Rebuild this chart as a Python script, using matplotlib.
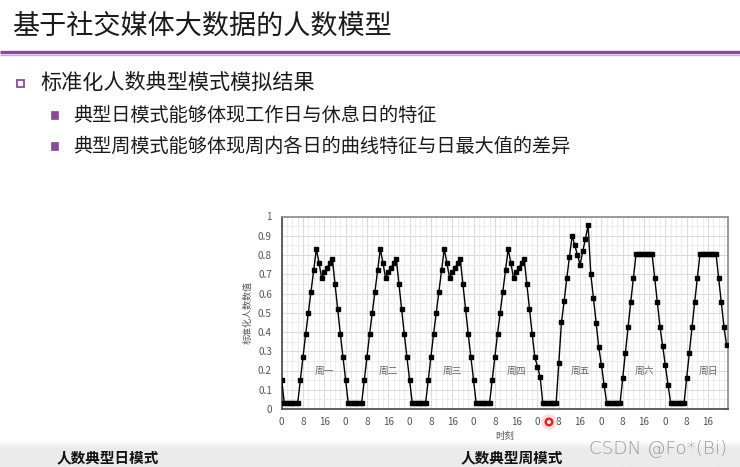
import matplotlib
matplotlib.use("Agg")
import matplotlib.pyplot as plt
import numpy as np
from matplotlib.patches import Rectangle, Circle

plt.rcParams['font.family'] = ['Noto Sans CJK SC', 'DejaVu Sans']

# ---------------- data (hourly normalised headcount, one list per day) ----------------
days = ["周一", "周二", "周三", "周四", "周五", "周六", "周日"]
mon = [0.15, 0.03, 0.03, 0.03, 0.03, 0.03, 0.03, 0.15, 0.27, 0.39, 0.50, 0.61,
       0.72, 0.83, 0.76, 0.68, 0.71, 0.73, 0.76, 0.78, 0.65, 0.52, 0.39, 0.27]
tue = [0.15, 0.03, 0.03, 0.03, 0.03, 0.03, 0.03, 0.15, 0.27, 0.39, 0.50, 0.61,
       0.72, 0.83, 0.76, 0.68, 0.71, 0.73, 0.76, 0.78, 0.65, 0.52, 0.39, 0.27]
wed = [0.15, 0.03, 0.03, 0.03, 0.03, 0.03, 0.03, 0.15, 0.27, 0.39, 0.50, 0.61,
       0.72, 0.83, 0.76, 0.68, 0.71, 0.73, 0.76, 0.78, 0.65, 0.52, 0.39, 0.27]
thu = [0.15, 0.03, 0.03, 0.03, 0.03, 0.03, 0.03, 0.15, 0.27, 0.39, 0.50, 0.61,
       0.72, 0.83, 0.76, 0.68, 0.71, 0.73, 0.76, 0.78, 0.65, 0.52, 0.39, 0.27]
fri = [0.22, 0.165, 0.03, 0.03, 0.03, 0.03, 0.03, 0.03, 0.24, 0.45, 0.56, 0.68,
       0.79, 0.90, 0.85, 0.80, 0.75, 0.82, 0.885, 0.955, 0.70, 0.577, 0.448, 0.32]
sat = [0.228, 0.125, 0.03, 0.03, 0.03, 0.03, 0.03, 0.03, 0.16, 0.293, 0.425, 0.556,
       0.68, 0.806, 0.806, 0.806, 0.806, 0.806, 0.806, 0.806, 0.68, 0.556, 0.425, 0.325]
sun = [0.228, 0.125, 0.03, 0.03, 0.03, 0.03, 0.03, 0.03, 0.16, 0.293, 0.425, 0.556,
       0.68, 0.806, 0.806, 0.806, 0.806, 0.806, 0.806, 0.806, 0.68, 0.556, 0.425, 0.33]
week = [mon, tue, wed, thu, fri, sat, sun]

hour_ticks = [0, 8, 16]
hour_tick_labels = ["0", "8", "16"]
y_ticks = [0, 0.1, 0.2, 0.3, 0.4, 0.5, 0.6, 0.7, 0.8, 0.9, 1]
y_tick_labels = ["0", "0.1", "0.2", "0.3", "0.4", "0.5", "0.6", "0.7", "0.8", "0.9", "1"]

title = "基于社交媒体大数据的人数模型"
bullet1 = "标准化人数典型模式模拟结果"
sub1 = "典型日模式能够体现工作日与休息日的特征"
sub2 = "典型周模式能够体现周内各日的曲线特征与日最大值的差异"
cap_left = "人数典型日模式"
cap_right = "人数典型周模式"
watermark = "CSDN @Fo*(Bi)"

W, H = 740, 467
fig = plt.figure(figsize=(W / 100, H / 100), dpi=100)
fig.patch.set_facecolor("white")

def fx(x):
    return x / W

def fy(y):
    return 1 - y / H

purple = "#8a4a9c"

# ---------------- chart ----------------
left_px, right_px, top_px, bot_px = 281.7, 728.0, 216.5, 409.0
ax = fig.add_axes([fx(left_px), fy(bot_px), (right_px - left_px) / W, (bot_px - top_px) / H])
values = np.concatenate([np.array(d) for d in week])
hours = np.arange(len(values))
ax.plot(hours, values, color="black", lw=1.0, marker="s", markersize=2.2,
        markerfacecolor="black", markeredgecolor="black", zorder=3)
ax.set_xlim(0, 167.5)
ax.set_ylim(0, 1)

xt = [d * 24 + h for d in range(len(days)) for h in hour_ticks]
xl = [lab for d in range(len(days)) for lab in hour_tick_labels]
ax.set_xticks(xt)
ax.set_xticklabels(xl)
ax.set_yticks(y_ticks)
ax.set_yticklabels(y_tick_labels)
ax.set_xticks(np.arange(0, 168, 2), minor=True)
ax.set_yticks(np.arange(0, 1.0001, 0.05), minor=True)
ax.grid(which="minor", color="#ececec", lw=0.7)
ax.grid(which="major", color="#dcdcdc", lw=0.8)
ax.set_axisbelow(True)
ax.tick_params(which="both", length=0)
ax.tick_params(axis="x", labelsize=7.2, colors="#555555", pad=6)
ax.tick_params(axis="y", labelsize=7.2, colors="#555555", pad=7)
for side in ["top", "right"]:
    ax.spines[side].set_color("#8a8a8a")
    ax.spines[side].set_linewidth(1.2)
for side in ["left", "bottom"]:
    ax.spines[side].set_color("#444444")
    ax.spines[side].set_linewidth(1.2)
ax.set_ylabel("标准化人数数值", fontsize=6.5, color="#555555", labelpad=4)
ax.set_xlabel("时刻", fontsize=6.8, color="#555555", labelpad=3)
for i, name in enumerate(days):
    ax.text(i * 24 + 16, 0.2, name, fontsize=7, color="#666666", ha="center", va="center")

# ---------------- slide decorations ----------------
ov = fig.add_axes([0, 0, 1, 1], zorder=10)
ov.set_xlim(0, W)
ov.set_ylim(H, 0)
ov.axis("off")
ov.patch.set_alpha(0)

# bottom grey strip
grad = np.linspace(1.0, 0.92, 10)
ov.imshow(np.concatenate([grad, np.full(20, 0.92)])[:, None] * np.ones((1, 2)),
          extent=[0, W, H, 440], cmap="gray", vmin=0, vmax=1, aspect="auto", zorder=0)
ov.set_xlim(0, W)
ov.set_ylim(H, 0)

# title and purple rule
ov.text(12, 26, title, fontsize=19.5, color="#1a1a1a", ha="left", va="center")
ov.plot([0, W], [52, 52], color=purple, lw=2.4, solid_capstyle="butt")
ov.plot([0, W], [54.5, 54.5], color="#c9a8d2", lw=1.0, solid_capstyle="butt")

# bullets
ov.add_patch(Rectangle((16.5, 79.5), 7.5, 7.5, facecolor="none", edgecolor=purple, lw=1.3))
ov.text(40, 83, bullet1, fontsize=15.2, color="#1a1a1a", ha="left", va="center")
ov.add_patch(Rectangle((50.5, 111), 7.5, 7.5, facecolor=purple, edgecolor=purple, lw=0.5))
ov.text(73, 115, sub1, fontsize=13.8, color="#1a1a1a", ha="left", va="center")
ov.add_patch(Rectangle((50.5, 142), 7.5, 7.5, facecolor=purple, edgecolor=purple, lw=0.5))
ov.text(73, 146, sub2, fontsize=13.8, color="#1a1a1a", ha="left", va="center")

# captions
ov.text(108, 457, cap_left, fontsize=10.5, fontweight="bold", color="#111111", ha="center", va="center")
ov.text(512, 457, cap_right, fontsize=10.5, fontweight="bold", color="#111111", ha="center", va="center")
ov.text(727, 449, watermark, fontsize=13.2, color="#9a9a9a", ha="right", va="center",
        family=["DejaVu Sans"], fontweight="light")

# cursor highlight
ov.add_patch(Circle((549, 422), 8, facecolor="#ffd6d6", edgecolor="none", alpha=0.8))
ov.add_patch(Circle((549, 422), 4.5, facecolor="#e8201c", edgecolor="none"))
ov.add_patch(Circle((549, 422), 2, facecolor="white", edgecolor="none"))

fig.savefig("out.png", dpi=100)
